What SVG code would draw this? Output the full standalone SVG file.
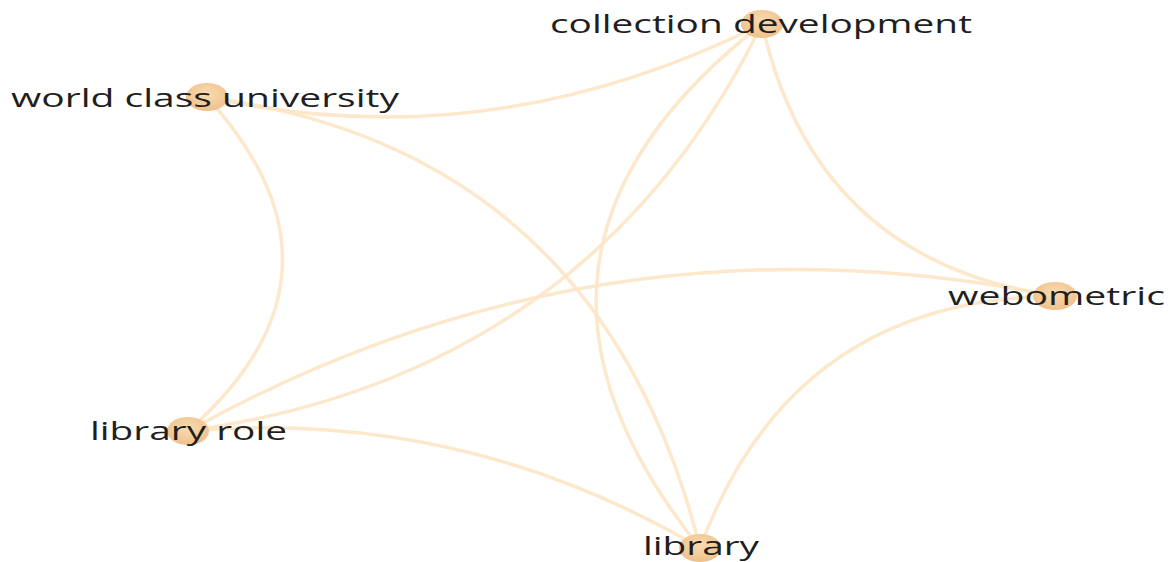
<svg xmlns="http://www.w3.org/2000/svg" width="1170" height="562" viewBox="0 0 1170 562">
<defs>
<radialGradient id="ng" cx="50%" cy="40%" r="60%">
<stop offset="0" stop-color="#f9dcb2"/>
<stop offset="1" stop-color="#efc08a"/>
</radialGradient>
<style>
.edge{fill:none;stroke:#fde6c6;stroke-width:3.5;stroke-opacity:0.9;stroke-linecap:round}
.node{fill:url(#ng)}
.lbl{font-family:"Open Sans","DejaVu Sans",sans-serif;font-size:26px;fill:#1f1f1f}
</style>
</defs>
<rect width="1170" height="562" fill="#ffffff"/>
<g id="connectors">
<path class="edge" d="M762,24 Q490,160 207,97"/>
<path class="edge" d="M762,24 Q590,375 188,431"/>
<path class="edge" d="M762,24 Q465,255 700,548"/>
<path class="edge" d="M762,24 Q815,261 1055,296"/>
<path class="edge" d="M207,97 Q367,274 188,431"/>
<path class="edge" d="M207,97 Q600,150 700,548"/>
<path class="edge" d="M188,431 Q597,204 1055,296"/>
<path class="edge" d="M188,431 Q463,408 700,548"/>
<path class="edge" d="M1055,296 Q791,300 700,548"/>
</g>
<g id="node-collection-development">
<ellipse class="node" cx="762" cy="24" rx="21" ry="14"/>
<text class="lbl" x="550" y="33" textLength="422" lengthAdjust="spacingAndGlyphs">collection development</text>
</g>
<g id="node-world-class-university">
<ellipse class="node" cx="207" cy="97" rx="21" ry="14"/>
<text class="lbl" x="11" y="107" textLength="388" lengthAdjust="spacingAndGlyphs">world class university</text>
</g>
<g id="node-webometric">
<ellipse class="node" cx="1055" cy="296" rx="22" ry="14"/>
<text class="lbl" x="948" y="305" textLength="217" lengthAdjust="spacingAndGlyphs">webometric</text>
</g>
<g id="node-library-role">
<ellipse class="node" cx="188" cy="431" rx="21" ry="14"/>
<text class="lbl" x="90" y="440" textLength="197" lengthAdjust="spacingAndGlyphs">library role</text>
</g>
<g id="node-library">
<ellipse class="node" cx="700" cy="548" rx="21" ry="14"/>
<text class="lbl" x="643" y="555" textLength="116" lengthAdjust="spacingAndGlyphs">library</text>
</g>
</svg>
